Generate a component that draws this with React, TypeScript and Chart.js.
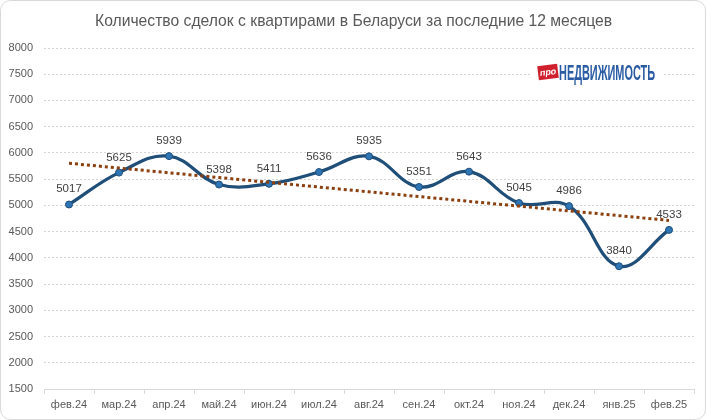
import React, { useEffect, useRef } from "react";
import { Chart, registerables } from "chart.js";

Chart.register(...registerables);

const titleText = "Количество сделок с квартирами в Беларуси за последние 12 месяцев";
const categories = [
  "фев.24", "мар.24", "апр.24", "май.24", "июн.24", "июл.24", "авг.24",
  "сен.24", "окт.24", "ноя.24", "дек.24", "янв.25", "фев.25",
];
const dealCounts = [5017, 5625, 5939, 5398, 5411, 5636, 5935, 5351, 5643, 5045, 4986, 3840, 4533];
const yMin = 1500;
const yMax = 8000;
const yStep = 500;
const logoBadge = "про";
const logoWord = "НЕДВИЖИМОСТЬ";

// Linear (least-squares) trendline, like Excel's "linear trend"
function linearTrend(values: number[]): number[] {
  const n = values.length;
  const mx = (n - 1) / 2;
  const my = values.reduce((a, b) => a + b, 0) / n;
  let sxy = 0;
  let sxx = 0;
  values.forEach((v, i) => {
    sxy += (i - mx) * (v - my);
    sxx += (i - mx) * (i - mx);
  });
  const slope = sxy / sxx;
  return values.map((_, i) => my + slope * (i - mx));
}

const FONT = "'Liberation Sans', Arial, sans-serif";

const framePlugin = {
  id: "frame",
  beforeDraw(chart: any) {
    const { ctx, width, height } = chart;
    ctx.save();
    ctx.fillStyle = "#ffffff";
    ctx.fillRect(0, 0, width, height);
    ctx.beginPath();
    (ctx as any).roundRect(0.5, 0.5, width - 1, height - 1, 10);
    ctx.strokeStyle = "#d9d9d9";
    ctx.lineWidth = 1;
    ctx.stroke();
    // title, centred on the whole chart
    ctx.font = `15.7px ${FONT}`;
    ctx.fillStyle = "#595959";
    ctx.textAlign = "center";
    ctx.textBaseline = "middle";
    ctx.fillText(titleText, width / 2 + 0.5, 22);
    ctx.restore();
  },
};

const labelPlugin = {
  id: "pointLabels",
  afterDatasetsDraw(chart: any) {
    const { ctx } = chart;
    const meta = chart.getDatasetMeta(1);
    const data = chart.data.datasets[1].data as number[];
    ctx.save();
    ctx.font = `11.5px ${FONT}`;
    ctx.fillStyle = "#404040";
    ctx.textAlign = "center";
    ctx.textBaseline = "alphabetic";
    meta.data.forEach((pt: any, i: number) => {
      ctx.fillText(String(data[i]), pt.x, pt.y - 12);
    });
    ctx.restore();
  },
};

const logoPlugin = {
  id: "logo",
  afterDraw(chart: any) {
    const { ctx } = chart;
    ctx.save();
    // white backing
    ctx.fillStyle = "#ffffff";
    ctx.fillRect(531, 63, 131, 20);
    // red badge
    ctx.translate(548, 72);
    ctx.rotate(-0.12);
    ctx.fillStyle = "#d0202e";
    ctx.fillRect(-10, -7, 20, 14);
    ctx.fillStyle = "#ffffff";
    ctx.font = `bold italic 9px ${FONT}`;
    ctx.textAlign = "center";
    ctx.textBaseline = "middle";
    ctx.fillText(logoBadge, 0, 0.5);
    ctx.restore();
    // word
    ctx.save();
    ctx.font = `bold 22px ${FONT}`;
    const w = ctx.measureText(logoWord).width;
    ctx.translate(559, 80);
    ctx.scale(96 / w, 1);
    ctx.fillStyle = "#2a5ca4";
    ctx.textAlign = "left";
    ctx.textBaseline = "alphabetic";
    ctx.fillText(logoWord, 0, 0);
    ctx.restore();
  },
};

export default function App() {
  const ref = useRef<HTMLCanvasElement | null>(null);

  useEffect(() => {
    if (!ref.current) return;
    const trend = linearTrend(dealCounts);
    const chart = new Chart(ref.current, {
      type: "line",
      data: {
        labels: categories,
        datasets: [
          {
            label: "Тренд",
            data: trend,
            borderColor: "#8c400f",
            borderWidth: 3,
            borderDash: [3, 3],
            pointRadius: 0,
            tension: 0,
            fill: false,
            order: 0,
          },
          {
            label: "Сделки",
            data: dealCounts,
            borderColor: "#1f4e79",
            borderWidth: 3.25,
            tension: 0.4,
            pointRadius: 3.5,
            pointBackgroundColor: "#2e75b6",
            pointBorderColor: "#1f4e79",
            pointBorderWidth: 1,
            fill: false,
            order: 1,
          },
        ],
      },
      options: {
        responsive: false,
        animation: false,
        devicePixelRatio: 1,
        layout: { padding: { top: 48, right: 12, bottom: 0, left: 0 } },
        plugins: {
          legend: { display: false },
          tooltip: { enabled: false },
          title: { display: false },
        },
        scales: {
          x: {
            type: "category",
            offset: true,
            grid: {
              offset: true,
              drawOnChartArea: false,
              drawTicks: true,
              tickLength: 5,
              color: "#d9d9d9",
            },
            border: { display: true, color: "#d9d9d9", width: 1 },
            ticks: {
              color: "#595959",
              font: { family: FONT, size: 11 },
              padding: 4,
              maxRotation: 0,
              autoSkip: false,
            },
            afterFit(scale: any) {
              scale.height = 31;
            },
          },
          y: {
            min: yMin,
            max: yMax,
            ticks: {
              stepSize: yStep,
              color: "#595959",
              font: { family: FONT, size: 11 },
              padding: 11,
              callback: (v: any) => String(v),
            },
            grid: {
              drawTicks: false,
              color: "#d4d4d4",
              lineWidth: 1,
            },
            border: { display: false, dash: [2, 2] },
            afterFit(scale: any) {
              scale.width = 44;
            },
          },
        },
      },
      plugins: [framePlugin, labelPlugin, logoPlugin],
    } as any);
    return () => chart.destroy();
  }, []);

  return (
    <div style={{ position: "absolute", left: 0, top: 0, width: 706, height: 420 }}>
      <canvas ref={ref} width={706} height={420} />
    </div>
  );
}
